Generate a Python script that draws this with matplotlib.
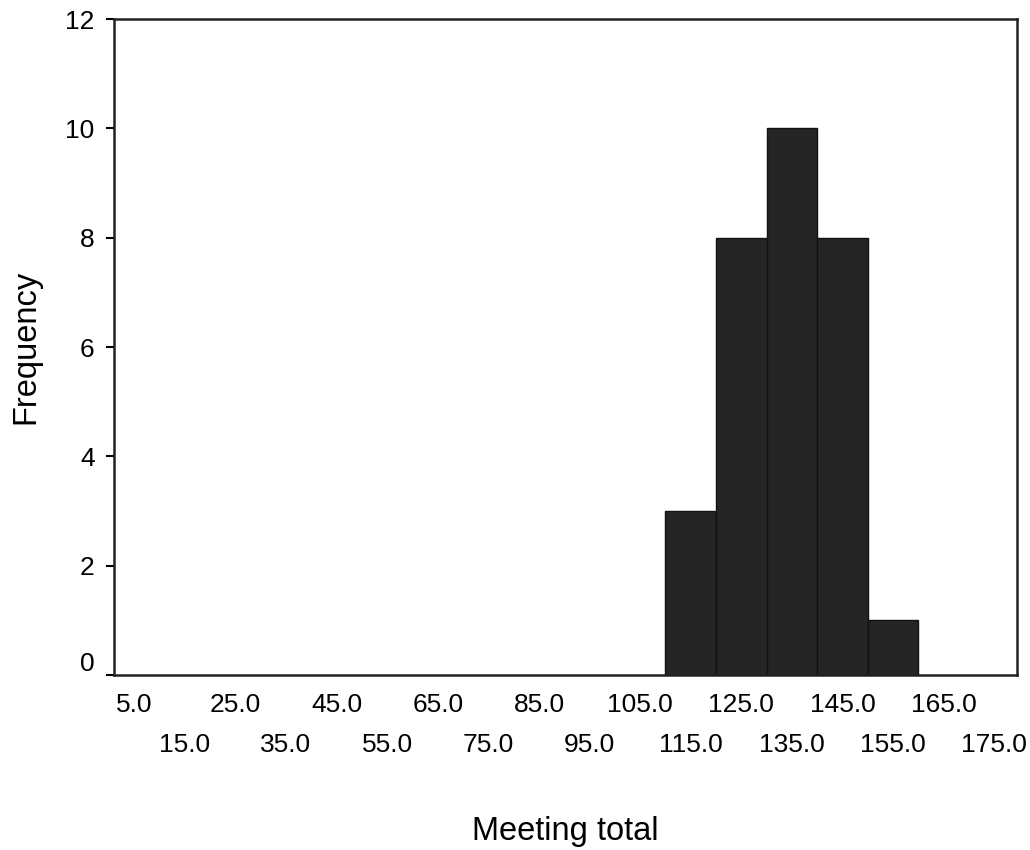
import matplotlib.pyplot as plt
import matplotlib.transforms as mtransforms
import numpy as np

plt.rcParams['font.family'] = ['Liberation Sans', 'DejaVu Sans']

# Histogram bins (centres) and counts
bin_centres = [115, 125, 135, 145, 155]
counts = [3, 8, 10, 8, 1]
bin_width = 10
row1_ticks = np.arange(5, 170, 20)    # 5.0, 25.0, ... 165.0
row2_ticks = np.arange(15, 180, 20)   # 15.0, 35.0, ... 175.0
y_ticks = [0, 2, 4, 6, 8, 10, 12]

fig = plt.figure(figsize=(10.3, 8.5), dpi=100)
ax = fig.add_axes([0.1107, 0.2059, 0.8767, 0.7717])

ax.bar(bin_centres, counts, width=bin_width, color='#252525',
       edgecolor='#111111', linewidth=1.0)

ax.set_xlim(1, 179.5)
ax.set_ylim(0, 12)

# x labels staggered on two rows (major = top row, minor = bottom row)
ax.set_xticks(row1_ticks)
ax.set_xticklabels([f'{v:.1f}' for v in row1_ticks], fontsize=19)
ax.set_xticks(row2_ticks, minor=True)
ax.set_xticklabels([f'{v:.1f}' for v in row2_ticks], minor=True, fontsize=19)
ax.tick_params(axis='x', which='major', length=0, pad=13)
ax.tick_params(axis='x', which='minor', length=0, pad=42)

ax.set_yticks(y_ticks)
ax.set_yticklabels([str(v) for v in y_ticks], fontsize=19)
ax.tick_params(axis='y', length=6, width=1.5, pad=8)

# the zero label sits a bit above the axis line
lbl0 = ax.get_yticklabels()[0]
lbl0.set_transform(lbl0.get_transform() +
                   mtransforms.ScaledTranslation(0, 13 / 100, fig.dpi_scale_trans))

for sp in ax.spines.values():
    sp.set_linewidth(1.8)
    sp.set_color('#222222')

ax.set_xlabel('Meeting total', fontsize=23.5, labelpad=42)
ax.set_ylabel('Frequency', fontsize=23.5, labelpad=17)

fig.savefig('out.png', dpi=100)
